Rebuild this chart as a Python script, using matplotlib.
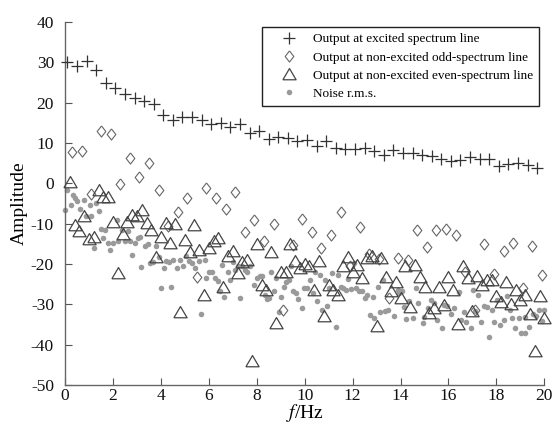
import matplotlib

matplotlib.use("Agg")
import matplotlib.pyplot as plt
import numpy as np

plt.rcParams["font.family"] = ["Liberation Serif", "DejaVu Serif"]
plt.rcParams["mathtext.fontset"] = "stix"
plt.rcParams["axes.unicode_minus"] = False

# spectrum line grids (Hz)
EXC_F = np.round(np.arange(0.1, 19.75, 0.4), 2)   # excited lines
ODD_F = np.round(np.arange(0.3, 19.95, 0.4), 2)   # non-excited odd lines
EVEN_F = np.round(np.arange(0.2, 20.05, 0.2), 2)  # even lines

EXC_AMP = [30.1, 29.1, 30.3, 28.0, 24.9, 23.7, 22.1, 21.2, 20.4, 19.6,
           16.9, 15.6, 16.5, 16.5, 15.7, 14.6, 14.8, 13.9, 14.6, 12.5,
           12.9, 11.0, 11.4, 11.3, 10.4, 10.6, 9.2, 10.4, 8.7, 8.4,
           8.4, 8.8, 8.0, 6.9, 8.2, 7.4, 7.4, 6.9, 6.7, 5.9,
           5.4, 5.7, 6.5, 5.9, 5.9, 4.2, 4.7, 4.9, 4.6, 3.8]

ODD_AMP = [7.8, 8.0, -2.6, 12.9, 12.1, -0.2, 6.3, 1.6, 5.0, -1.6,
           -10.5, -7.2, -3.6, -23.2, -1.3, -3.6, -6.5, -2.2, -12.1, -9.0,
           -14.3, -10.0, -31.4, -15.3, -8.9, -12.1, -16.1, -12.8, -7.1, -20.6,
           -10.9, -17.5, -18.7, -28.4, -18.6, -19.0, -11.5, -15.9, -11.7, -11.4,
           -12.8, -21.9, -31.4, -15.1, -22.5, -16.9, -14.9, -26.0, -15.5, -22.7]

EVEN_AMP = [0.3, -10.3, -11.8, -8.2, -13.9, -13.4, -1.6, -3.3, -3.3, -9.5,
            -22.3, -12.6, -9.5, -7.8, -8.0, -6.6, -9.9, -11.5, -18.2, -13.4,
            -9.9, -14.8, -10.0, -31.8, -14.0, -17.0, -10.3, -16.5, -27.7, -16.1,
            -14.4, -13.5, -25.6, -18.0, -16.9, -22.3, -19.6, -19.0, -44.0, -15.1,
            -25.2, -26.5, -17.1, -34.7, -21.9, -21.9, -15.1, -19.3, -21.1, -20.0,
            -20.4, -26.4, -19.3, -32.8, -25.2, -26.4, -27.7, -20.6, -18.3, -22.0,
            -20.2, -23.5, -18.5, -18.0, -35.4, -18.6, -23.2, -26.8, -24.5, -28.5,
            -20.4, -30.6, -20.2, -23.3, -25.7, -32.2, -31.0, -25.7, -30.2, -23.3,
            -26.4, -34.8, -20.5, -23.6, -31.6, -23.1, -25.2, -24.1, -24.0, -27.9,
            -29.4, -24.4, -29.9, -26.5, -29.0, -27.6, -32.4, -41.5, -27.9, -33.4]

NOISE_F = [0.0, 0.1, 0.24, 0.32, 0.42, 0.49, 0.63, 0.79, 0.88, 1.05,
           1.1, 1.21, 1.3, 1.42, 1.49, 1.6, 1.67, 1.81, 1.88, 2.0,
           2.16, 2.23, 2.37, 2.52, 2.62, 2.72, 2.79, 2.93, 3.03, 3.11,
           3.19, 3.35, 3.46, 3.56, 3.69, 3.81, 3.92, 4.02, 4.11, 4.23,
           4.32, 4.43, 4.5, 4.67, 4.81, 4.92, 5.06, 5.19, 5.3, 5.41,
           5.58, 5.69, 5.82, 5.9, 6.02, 6.14, 6.27, 6.37, 6.48, 6.56,
           6.65, 6.79, 6.9, 7.01, 7.11, 7.21, 7.29, 7.39, 7.49, 7.6,
           7.71, 7.88, 8.02, 8.13, 8.23, 8.33, 8.44, 8.51, 8.61, 8.72,
           8.81, 8.93, 9.02, 9.13, 9.23, 9.34, 9.44, 9.52, 9.64, 9.72,
           9.9, 9.97, 10.11, 10.22, 10.33, 10.42, 10.53, 10.64, 10.74, 10.84,
           10.92, 11.02, 11.13, 11.32, 11.39, 11.5, 11.61, 11.72, 11.81, 11.92,
           12.04, 12.13, 12.27, 12.41, 12.51, 12.62, 12.72, 12.83, 12.9, 13.04,
           13.15, 13.26, 13.34, 13.46, 13.71, 13.88, 13.95, 14.04, 14.16, 14.23,
           14.37, 14.53, 14.64, 14.74, 14.92, 14.99, 15.13, 15.27, 15.38, 15.52,
           15.72, 15.83, 15.93, 16.11, 16.22, 16.42, 16.53, 16.64, 16.74, 16.92,
           17.02, 17.11, 17.25, 17.36, 17.47, 17.61, 17.71, 17.82, 17.92, 18.03,
           18.16, 18.31, 18.44, 18.58, 18.65, 18.76, 18.94, 19.04, 19.18, 19.2,
           19.36, 19.53, 19.67, 19.77, 19.91, 20.0]
NOISE_AMP = [-6.7, -1.6, -5.3, -2.8, -3.6, -4.4, -6.5, -4.1, -8.2, -5.5,
             -8.0, -16.1, -5.0, -6.9, -11.3, -13.6, -11.5, -14.8, -16.5, -14.7,
             -9.0, -14.4, -11.5, -14.4, -11.9, -14.4, -17.9, -14.8, -13.6, -13.4,
             -20.8, -15.6, -15.0, -19.8, -19.4, -15.6, -18.3, -26.0, -21.1, -19.2,
             -19.4, -25.6, -19.0, -21.0, -19.0, -20.6, -18.1, -19.2, -19.8, -21.1,
             -19.2, -32.3, -19.0, -23.5, -21.9, -22.0, -23.5, -24.2, -26.8, -20.2,
             -28.1, -21.9, -24.1, -19.4, -21.5, -20.5, -28.5, -20.5, -21.5, -21.9,
             -20.6, -25.2, -23.5, -23.1, -22.9, -27.7, -28.8, -28.5, -22.1, -26.8,
             -23.5, -31.8, -28.1, -25.6, -24.4, -24.1, -20.5, -26.8, -27.3, -28.8,
             -30.9, -26.0, -26.0, -23.9, -27.3, -21.9, -29.3, -22.7, -31.4, -23.9,
             -30.4, -26.0, -22.3, -35.6, -22.7, -25.6, -26.0, -26.4, -23.8, -26.3,
             -19.8, -26.0, -26.8, -26.8, -28.5, -27.7, -32.6, -28.1, -33.5, -25.6,
             -31.8, -23.9, -31.6, -31.3, -32.8, -26.4, -27.3, -26.8, -30.6, -33.6,
             -29.3, -33.5, -26.0, -29.7, -34.7, -33.2, -31.0, -29.0, -29.8, -34.0,
             -36.0, -30.2, -30.4, -32.3, -31.0, -26.9, -34.0, -31.8, -34.3, -35.8,
             -26.4, -31.6, -27.7, -34.3, -30.4, -30.6, -38.1, -31.4, -34.3, -28.9,
             -35.1, -34.0, -28.0, -31.3, -33.5, -35.8, -33.5, -37.2, -37.2, -33.1,
             -35.7, -32.3, -32.8, -31.4, -34.1, -31.4]

LABELS = ["Output at excited spectrum line",
          "Output at non-excited odd-spectrum line",
          "Output at non-excited even-spectrum line",
          "Noise r.m.s."]

diamond = [(0, 1), (0.78, 0), (0, -1), (-0.78, 0), (0, 1)]
triangle = [(-1, -0.8), (1, -0.8), (0, 0.9), (-1, -0.8)]

fig = plt.figure(figsize=(5.56, 4.36), dpi=100, facecolor="white")
ax = fig.add_axes([0.117, 0.117, 0.862, 0.833])

ax.plot(EXC_F, EXC_AMP, ls="none", marker="+", ms=8, mew=0.9, color="#333333",
        label=LABELS[0], clip_on=False, zorder=4)
ax.plot(ODD_F, ODD_AMP, ls="none", marker=diamond, ms=8, mew=0.8, mfc="none",
        mec="#666666", label=LABELS[1], clip_on=False, zorder=3)
ax.plot(EVEN_F, EVEN_AMP, ls="none", marker=triangle, ms=9.5, mew=0.9, mfc="none",
        mec="#444444", label=LABELS[2], clip_on=False, zorder=3)
ax.plot(NOISE_F, NOISE_AMP, ls="none", marker="o", ms=4, mew=0, color="#9a9a9a",
        label=LABELS[3], clip_on=False, zorder=2)

ax.set_xlim(0, 20)
ax.set_ylim(-50, 40)
ax.set_xticks(range(0, 21, 2))
ax.set_yticks(range(-50, 41, 10))
ax.tick_params(direction="in", length=5, width=0.8, colors="#555555",
               labelcolor="#111111", labelsize=12.5)
ax.tick_params(axis="y", pad=8)
ax.tick_params(axis="x", pad=2)
for side in ("top", "right"):
    ax.spines[side].set_visible(False)
for side in ("left", "bottom"):
    ax.spines[side].set_color("#666666")
    ax.spines[side].set_linewidth(1.0)

ax.set_xlabel("$f$/Hz", fontsize=14, labelpad=-1)
ax.set_ylabel("Amplitude", fontsize=14, labelpad=2)

leg = ax.legend(loc="upper right", bbox_to_anchor=(0.988, 0.985), borderaxespad=0,
                fontsize=9.5, frameon=True, fancybox=False, framealpha=1,
                handlelength=3.2, handletextpad=0.15, labelspacing=0.45,
                borderpad=0.45)
leg.get_frame().set_edgecolor("#222222")
leg.get_frame().set_linewidth(1.0)

fig.savefig("out.png", dpi=100, facecolor="white")
